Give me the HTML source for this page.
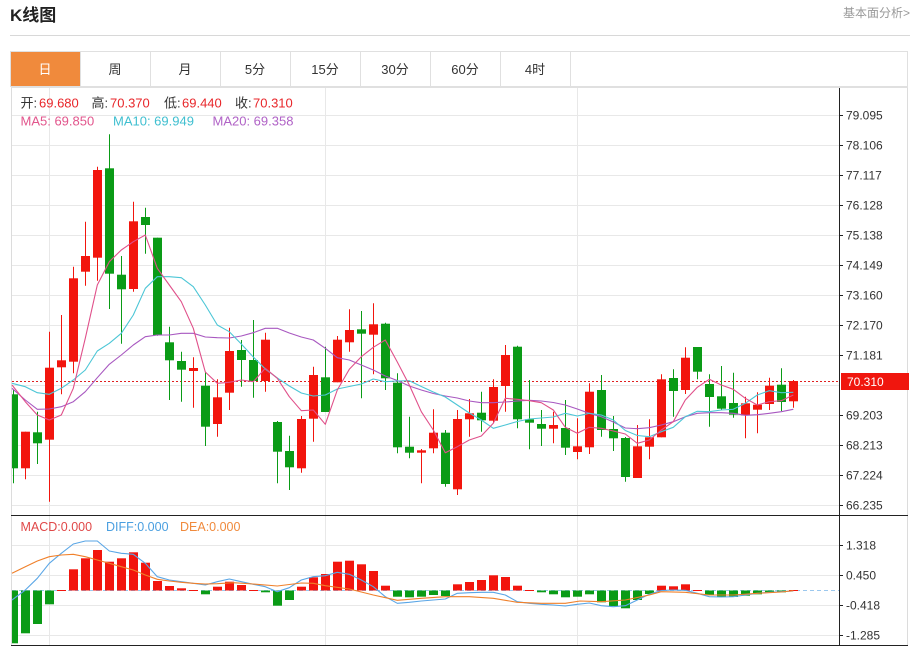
<!DOCTYPE html>
<html>
<head>
<meta charset="utf-8">
<style>
html,body{margin:0;padding:0;background:#fff;}
body{width:914px;height:646px;overflow:hidden;}
svg{display:block;font-family:"Liberation Sans","Noto Sans CJK SC",sans-serif;}
</style>
</head>
<body>
<svg width="914" height="646" viewBox="0 0 914 646" xmlns="http://www.w3.org/2000/svg">
<rect x="0" y="0" width="914" height="646" fill="#fff"/>
<!-- header -->
<text x="10" y="21" font-size="17" font-weight="bold" fill="#222">K线图</text>
<text x="910" y="17" font-size="12" fill="#999" text-anchor="end">基本面分析&gt;</text>
<line x1="10" y1="35.5" x2="910" y2="35.5" stroke="#d8d8d8" stroke-width="1"/>

<!-- tab bar -->
<rect x="10.5" y="51.5" width="897" height="35" fill="#fff" stroke="#e0e0e0"/>
<rect x="11" y="52" width="69" height="34" fill="#f08a3c"/>
<g stroke="#e0e0e0">
<line x1="80.5" y1="52" x2="80.5" y2="86"/>
<line x1="150.5" y1="52" x2="150.5" y2="86"/>
<line x1="220.5" y1="52" x2="220.5" y2="86"/>
<line x1="290.5" y1="52" x2="290.5" y2="86"/>
<line x1="360.5" y1="52" x2="360.5" y2="86"/>
<line x1="430.5" y1="52" x2="430.5" y2="86"/>
<line x1="500.5" y1="52" x2="500.5" y2="86"/>
<line x1="570.5" y1="52" x2="570.5" y2="86"/>
</g>
<g font-size="13" text-anchor="middle" fill="#333">
<text x="45" y="74" fill="#fff">日</text>
<text x="115" y="74">周</text>
<text x="185" y="74">月</text>
<text x="255" y="74">5分</text>
<text x="325" y="74">15分</text>
<text x="395" y="74">30分</text>
<text x="465" y="74">60分</text>
<text x="535" y="74">4时</text>
</g>

<!-- chart box -->
<line x1="11.5" y1="87" x2="11.5" y2="645" stroke="#dcdcdc"/>
<line x1="907.5" y1="87" x2="907.5" y2="645" stroke="#dcdcdc"/>
<line x1="11" y1="87.5" x2="908" y2="87.5" stroke="#e0e0e0"/>

<!-- grid -->
<g stroke="#e8e8e8" stroke-width="1">
<line x1="12" y1="115.5" x2="839" y2="115.5"/>
<line x1="12" y1="145.5" x2="839" y2="145.5"/>
<line x1="12" y1="175.5" x2="839" y2="175.5"/>
<line x1="12" y1="205.5" x2="839" y2="205.5"/>
<line x1="12" y1="235.5" x2="839" y2="235.5"/>
<line x1="12" y1="265.5" x2="839" y2="265.5"/>
<line x1="12" y1="295.5" x2="839" y2="295.5"/>
<line x1="12" y1="325.5" x2="839" y2="325.5"/>
<line x1="12" y1="355.5" x2="839" y2="355.5"/>
<line x1="12" y1="385.5" x2="839" y2="385.5"/>
<line x1="12" y1="415.5" x2="839" y2="415.5"/>
<line x1="12" y1="445.5" x2="839" y2="445.5"/>
<line x1="12" y1="475.5" x2="839" y2="475.5"/>
<line x1="12" y1="505.5" x2="839" y2="505.5"/>
<line x1="12" y1="545.5" x2="839" y2="545.5"/>
<line x1="12" y1="575.5" x2="839" y2="575.5"/>
<line x1="12" y1="605.5" x2="839" y2="605.5"/>
<line x1="12" y1="635.5" x2="839" y2="635.5"/>
<line x1="49.5" y1="88" x2="49.5" y2="645"/>
<line x1="325.5" y1="88" x2="325.5" y2="645"/>
<line x1="577.5" y1="88" x2="577.5" y2="645"/>
</g>

<!-- axes -->
<line x1="839.5" y1="88" x2="839.5" y2="646" stroke="#222"/>
<line x1="11" y1="515.5" x2="908" y2="515.5" stroke="#222"/>
<line x1="11" y1="645.5" x2="908" y2="645.5" stroke="#222"/>
<g stroke="#222">
<line x1="839" y1="115.5" x2="843" y2="115.5"/>
<line x1="839" y1="145.5" x2="843" y2="145.5"/>
<line x1="839" y1="175.5" x2="843" y2="175.5"/>
<line x1="839" y1="205.5" x2="843" y2="205.5"/>
<line x1="839" y1="235.5" x2="843" y2="235.5"/>
<line x1="839" y1="265.5" x2="843" y2="265.5"/>
<line x1="839" y1="295.5" x2="843" y2="295.5"/>
<line x1="839" y1="325.5" x2="843" y2="325.5"/>
<line x1="839" y1="355.5" x2="843" y2="355.5"/>
<line x1="839" y1="415.5" x2="843" y2="415.5"/>
<line x1="839" y1="445.5" x2="843" y2="445.5"/>
<line x1="839" y1="475.5" x2="843" y2="475.5"/>
<line x1="839" y1="505.5" x2="843" y2="505.5"/>
<line x1="839" y1="545.5" x2="843" y2="545.5"/>
<line x1="839" y1="575.5" x2="843" y2="575.5"/>
<line x1="839" y1="605.5" x2="843" y2="605.5"/>
<line x1="839" y1="635.5" x2="843" y2="635.5"/>
</g>
<g font-size="12" fill="#333">
<text x="846" y="119.5">79.095</text>
<text x="846" y="149.5">78.106</text>
<text x="846" y="179.5">77.117</text>
<text x="846" y="209.5">76.128</text>
<text x="846" y="239.5">75.138</text>
<text x="846" y="269.5">74.149</text>
<text x="846" y="299.5">73.160</text>
<text x="846" y="329.5">72.170</text>
<text x="846" y="359.5">71.181</text>
<text x="846" y="419.5">69.203</text>
<text x="846" y="449.5">68.213</text>
<text x="846" y="479.5">67.224</text>
<text x="846" y="509.5">66.235</text>
<text x="846" y="549.5">1.318</text>
<text x="846" y="579.5">0.450</text>
<text x="846" y="609.5">-0.418</text>
<text x="846" y="639.5">-1.285</text>
</g>

<!-- legends -->
<g font-size="13">
<text x="20.5" y="107.5" fill="#333">开:</text>
<text x="39" y="107.5" fill="#e8262a">69.680</text>
<text x="91.5" y="107.5" fill="#333">高:</text>
<text x="110" y="107.5" fill="#e8262a">70.370</text>
<text x="164" y="107.5" fill="#333">低:</text>
<text x="182" y="107.5" fill="#e8262a">69.440</text>
<text x="235" y="107.5" fill="#333">收:</text>
<text x="253" y="107.5" fill="#e8262a">70.310</text>
<text x="20.5" y="125.5" fill="#e2558c">MA5: 69.850</text>
<text x="113" y="125.5" fill="#3fbfd0">MA10: 69.949</text>
<text x="212.5" y="125.5" fill="#b062c6">MA20: 69.358</text>
</g>
<g font-size="12.5">
<text x="20.5" y="531" fill="#e04848">MACD:0.000</text>
<text x="106" y="531" fill="#4a9fe0">DIFF:0.000</text>
<text x="180" y="531" fill="#f08a3c">DEA:0.000</text>
</g>

<!-- current price line -->
<line x1="12" y1="381.5" x2="839" y2="381.5" stroke="#e02020" stroke-width="1" stroke-dasharray="2,2"/>
<rect x="841" y="373" width="68" height="17" fill="#f0160e"/>
<text x="847" y="386" font-size="12" fill="#fff">70.310</text>

<!-- red candles -->
<g fill="#f2150d" stroke="#f2150d" stroke-width="1">
<line x1="25.5" y1="431.7" x2="25.5" y2="479.3"/><rect stroke="none" x="21" y="431.7" width="9" height="36.6"/>
<line x1="49.5" y1="331.7" x2="49.5" y2="501.7"/><rect stroke="none" x="45" y="367.7" width="9" height="72"/>
<line x1="61.5" y1="315" x2="61.5" y2="394.3"/><rect stroke="none" x="57" y="360.3" width="9" height="7"/>
<line x1="73.5" y1="266.7" x2="73.5" y2="373.3"/><rect stroke="none" x="69" y="278.3" width="9" height="83.4"/>
<line x1="85.5" y1="221.7" x2="85.5" y2="285.7"/><rect stroke="none" x="81" y="256" width="9" height="15.7"/>
<line x1="97.5" y1="166.7" x2="97.5" y2="280.7"/><rect stroke="none" x="93" y="170" width="9" height="87.7"/>
<line x1="133.5" y1="201.7" x2="133.5" y2="291.7"/><rect stroke="none" x="129" y="221.3" width="9" height="67.7"/>
<line x1="193.5" y1="357.3" x2="193.5" y2="407.7"/><rect stroke="none" x="189" y="368" width="9" height="3"/>
<line x1="217.5" y1="379.3" x2="217.5" y2="436.7"/><rect stroke="none" x="213" y="397.3" width="9" height="26.7"/>
<line x1="229.5" y1="327.7" x2="229.5" y2="410"/><rect stroke="none" x="225" y="351" width="9" height="41.7"/>
<line x1="265.5" y1="332.7" x2="265.5" y2="391.7"/><rect stroke="none" x="261" y="339.7" width="9" height="41.3"/>
<line x1="301.5" y1="416" x2="301.5" y2="472.7"/><rect stroke="none" x="297" y="419" width="9" height="49.3"/>
<line x1="313.5" y1="366.7" x2="313.5" y2="441.7"/><rect stroke="none" x="309" y="375" width="9" height="43.7"/>
<line x1="337.5" y1="336" x2="337.5" y2="382.3"/><rect stroke="none" x="333" y="339.7" width="9" height="42.6"/>
<line x1="349.5" y1="309.3" x2="349.5" y2="351.7"/><rect stroke="none" x="345" y="330" width="9" height="12.3"/>
<line x1="373.5" y1="303.3" x2="373.5" y2="374.3"/><rect stroke="none" x="369" y="324.3" width="9" height="10.4"/>
<line x1="421.5" y1="449" x2="421.5" y2="483.3"/><rect stroke="none" x="417" y="450.3" width="9" height="2.4"/>
<line x1="433.5" y1="409.3" x2="433.5" y2="453.3"/><rect stroke="none" x="429" y="432.7" width="9" height="15.6"/>
<line x1="457.5" y1="410" x2="457.5" y2="495"/><rect stroke="none" x="453" y="419" width="9" height="70.3"/>
<line x1="469.5" y1="399" x2="469.5" y2="436.7"/><rect stroke="none" x="465" y="413.3" width="9" height="6"/>
<line x1="493.5" y1="379.3" x2="493.5" y2="423.3"/><rect stroke="none" x="489" y="387" width="9" height="33.7"/>
<line x1="505.5" y1="345" x2="505.5" y2="411.7"/><rect stroke="none" x="501" y="355" width="9" height="31"/>
<line x1="553.5" y1="411.7" x2="553.5" y2="443.3"/><rect stroke="none" x="549" y="425" width="9" height="3.7"/>
<line x1="577.5" y1="418.3" x2="577.5" y2="459.3"/><rect stroke="none" x="573" y="446.3" width="9" height="5.7"/>
<line x1="589.5" y1="383.3" x2="589.5" y2="454"/><rect stroke="none" x="585" y="391.7" width="9" height="55.6"/>
<line x1="637.5" y1="425" x2="637.5" y2="478"/><rect stroke="none" x="633" y="446.3" width="9" height="31.7"/>
<line x1="649.5" y1="419.3" x2="649.5" y2="459.3"/><rect stroke="none" x="645" y="437.3" width="9" height="9.4"/>
<line x1="661.5" y1="374.3" x2="661.5" y2="437.3"/><rect stroke="none" x="657" y="379.3" width="9" height="58"/>
<line x1="685.5" y1="347.3" x2="685.5" y2="394"/><rect stroke="none" x="681" y="357.7" width="9" height="32.3"/>
<line x1="745.5" y1="396.7" x2="745.5" y2="438.3"/><rect stroke="none" x="741" y="403.3" width="9" height="12"/>
<line x1="757.5" y1="392.3" x2="757.5" y2="433.3"/><rect stroke="none" x="753" y="404.7" width="9" height="5"/>
<line x1="769.5" y1="377.7" x2="769.5" y2="410"/><rect stroke="none" x="765" y="385.7" width="9" height="18.3"/>
<line x1="793.5" y1="380" x2="793.5" y2="407.7"/><rect stroke="none" x="789" y="381" width="9" height="20.3"/>
</g>

<!-- green candles -->
<g fill="#0a9b16" stroke="#0a9b16" stroke-width="1">
<line x1="13.5" y1="390" x2="13.5" y2="483.3"/><rect stroke="none" x="12" y="394.3" width="6" height="74"/>
<line x1="37.5" y1="411.7" x2="37.5" y2="464"/><rect stroke="none" x="33" y="432.3" width="9" height="11"/>
<line x1="109.5" y1="134.3" x2="109.5" y2="309"/><rect stroke="none" x="105" y="168.3" width="9" height="105.4"/>
<line x1="121.5" y1="256" x2="121.5" y2="343.7"/><rect stroke="none" x="117" y="274.7" width="9" height="14.6"/>
<line x1="145.5" y1="207.7" x2="145.5" y2="253.7"/><rect stroke="none" x="141" y="217" width="9" height="8"/>
<line x1="157.5" y1="237.7" x2="157.5" y2="335.7"/><rect stroke="none" x="153" y="237.7" width="9" height="97.3"/>
<line x1="169.5" y1="326.7" x2="169.5" y2="400"/><rect stroke="none" x="165" y="342.3" width="9" height="18"/>
<line x1="181.5" y1="351.7" x2="181.5" y2="401.7"/><rect stroke="none" x="177" y="361" width="9" height="8.7"/>
<line x1="205.5" y1="371.7" x2="205.5" y2="446"/><rect stroke="none" x="201" y="385.7" width="9" height="41"/>
<line x1="241.5" y1="340" x2="241.5" y2="386.7"/><rect stroke="none" x="237" y="350" width="9" height="10"/>
<line x1="253.5" y1="320" x2="253.5" y2="397.7"/><rect stroke="none" x="249" y="360" width="9" height="21"/>
<line x1="277.5" y1="421" x2="277.5" y2="483.3"/><rect stroke="none" x="273" y="422" width="9" height="29.7"/>
<line x1="289.5" y1="435.7" x2="289.5" y2="490"/><rect stroke="none" x="285" y="451" width="9" height="16.3"/>
<line x1="325.5" y1="346.7" x2="325.5" y2="412"/><rect stroke="none" x="321" y="377.3" width="9" height="34.7"/>
<line x1="361.5" y1="311" x2="361.5" y2="398.3"/><rect stroke="none" x="357" y="329.3" width="9" height="4.4"/>
<line x1="385.5" y1="322.7" x2="385.5" y2="390"/><rect stroke="none" x="381" y="323.7" width="9" height="54.6"/>
<line x1="397.5" y1="373.3" x2="397.5" y2="453.3"/><rect stroke="none" x="393" y="382.7" width="9" height="64.6"/>
<line x1="409.5" y1="416.7" x2="409.5" y2="458.3"/><rect stroke="none" x="405" y="446.7" width="9" height="6"/>
<line x1="445.5" y1="430" x2="445.5" y2="486.7"/><rect stroke="none" x="441" y="432.7" width="9" height="51.3"/>
<line x1="481.5" y1="391.7" x2="481.5" y2="431.7"/><rect stroke="none" x="477" y="412.7" width="9" height="7.6"/>
<line x1="517.5" y1="345.7" x2="517.5" y2="428.3"/><rect stroke="none" x="513" y="346.7" width="9" height="72.6"/>
<line x1="529.5" y1="380" x2="529.5" y2="449.3"/><rect stroke="none" x="525" y="419.3" width="9" height="3.4"/>
<line x1="541.5" y1="410" x2="541.5" y2="446"/><rect stroke="none" x="537" y="424" width="9" height="4.7"/>
<line x1="565.5" y1="400" x2="565.5" y2="455"/><rect stroke="none" x="561" y="428" width="9" height="19.7"/>
<line x1="601.5" y1="375" x2="601.5" y2="436.7"/><rect stroke="none" x="597" y="390" width="9" height="40"/>
<line x1="613.5" y1="416" x2="613.5" y2="451"/><rect stroke="none" x="609" y="429" width="9" height="9.3"/>
<line x1="625.5" y1="437" x2="625.5" y2="481.7"/><rect stroke="none" x="621" y="438" width="9" height="39"/>
<line x1="673.5" y1="369.3" x2="673.5" y2="416.7"/><rect stroke="none" x="669" y="378" width="9" height="13"/>
<line x1="697.5" y1="347" x2="697.5" y2="379.3"/><rect stroke="none" x="693" y="347" width="9" height="24.7"/>
<line x1="709.5" y1="374.3" x2="709.5" y2="426.7"/><rect stroke="none" x="705" y="384" width="9" height="13"/>
<line x1="721.5" y1="366" x2="721.5" y2="410"/><rect stroke="none" x="717" y="396.3" width="9" height="12.4"/>
<line x1="733.5" y1="372.7" x2="733.5" y2="417.7"/><rect stroke="none" x="729" y="403" width="9" height="11.7"/>
<line x1="781.5" y1="368.3" x2="781.5" y2="411"/><rect stroke="none" x="777" y="384.7" width="9" height="17.3"/>
</g>

<!-- MA lines -->
<g fill="none" stroke-width="1.1" stroke-linejoin="round">
<polyline stroke="#a858c0" points="12,388.3 25.3,400 37.3,409.3 49.3,409 61.3,406.7 73.3,401.7 85.3,391.7 97.3,377.7 109.3,364.3 121.3,355 133.3,345 145.3,336.7 157.3,335 169.3,335 181.3,333.3 193.3,333.3 205.3,337 217.3,337.7 229.3,338 241.3,336 253.3,332.7 265.3,328.3 277.3,328.3 289.3,333 301.3,337 313.3,340 325.3,348.3 337.3,357.7 349.3,360 361.3,365 373.3,370 385.3,376 397.3,380.5 409.3,386 421.3,390 433.3,393.5 445.3,396 457.3,398 469.3,401 481.3,402.7 493.3,402.7 505.3,402 517.3,401 529.3,400.3 541.3,401 553.3,402.5 565.3,405 577.3,409 589.3,413.3 601.3,416.7 613.3,422 625.3,428 637.3,428.7 649.3,427.7 661.3,425 673.3,421.7 685.3,416.7 697.3,413.3 709.3,412.7 721.3,412.7 733.3,413.3 745.3,415.3 757.3,414.7 769.3,413.3 781.3,411.7 793.3,409.3"/>
<polyline stroke="#4cc6d6" points="12,383.3 25.3,386.7 37.3,392.7 49.3,394.3 61.3,388.3 73.3,380 85.3,370 97.3,351 109.3,343.3 121.3,333.3 133.3,315 145.3,288.3 157.3,276.7 169.3,276.7 181.3,277.7 193.3,286.7 205.3,305 217.3,325 229.3,331.7 241.3,344 253.3,357 265.3,369 277.3,378 289.3,386 301.3,393 313.3,396 325.3,395 337.3,389 349.3,386.5 361.3,384 373.3,379 385.3,381.7 397.3,381 409.3,380.7 421.3,386.5 433.3,392 445.3,397 457.3,405 469.3,413 481.3,420 493.3,428.3 505.3,425 517.3,421.5 529.3,419 541.3,418 553.3,417 565.3,413.3 577.3,416 589.3,413.3 601.3,415 613.3,420 625.3,430.5 637.3,435.5 649.3,436.7 661.3,431.7 673.3,427.3 685.3,416.7 697.3,411.3 709.3,411.7 721.3,410 733.3,409.3 745.3,403.3 757.3,395 769.3,390.7 781.3,392.7 793.3,392.3"/>
<polyline stroke="#e0508a" points="12,385 25.3,401.7 37.3,415 49.3,420 61.3,415 73.3,388.3 85.3,338.3 97.3,285 109.3,261.7 121.3,250 133.3,241.7 145.3,235 157.3,268.3 169.3,285 181.3,301.7 193.3,328.3 205.3,372 217.3,383.3 229.3,382.3 241.3,380 253.3,381.7 265.3,368.3 277.3,378.3 289.3,396.7 301.3,410.7 313.3,410 325.3,424.3 337.3,390 349.3,369.3 361.3,356.7 373.3,347.3 385.3,340 397.3,362 409.3,385 421.3,411.7 433.3,430 445.3,452.7 457.3,446.7 469.3,440 481.3,436 493.3,423.3 505.3,398.3 517.3,399.3 529.3,400.7 541.3,402.7 553.3,410 565.3,427.3 577.3,433.3 589.3,427.3 601.3,428.3 613.3,431 625.3,434 637.3,443.3 649.3,440 661.3,430 673.3,421.7 685.3,400 697.3,387.3 709.3,379.3 721.3,385 733.3,389.3 745.3,398.3 757.3,405 769.3,401.7 781.3,400.7 793.3,395"/>
</g>

<!-- MACD zero line -->
<line x1="12" y1="590.5" x2="839" y2="590.5" stroke="#9cc8ee" stroke-width="1" stroke-dasharray="4,3"/>

<!-- MACD red bars -->
<g fill="#f2150d">
<rect x="57" y="590" width="9" height="1"/>
<rect x="69" y="569.3" width="9" height="21.2"/>
<rect x="81" y="558.3" width="9" height="32.2"/>
<rect x="93" y="550" width="9" height="40.5"/>
<rect x="105" y="561.7" width="9" height="28.8"/>
<rect x="117" y="558.3" width="9" height="32.2"/>
<rect x="129" y="552.3" width="9" height="38.2"/>
<rect x="141" y="562.7" width="9" height="27.8"/>
<rect x="153" y="581" width="9" height="9.5"/>
<rect x="165" y="586" width="9" height="4.5"/>
<rect x="177" y="588.3" width="9" height="2.2"/>
<rect x="189" y="590" width="9" height="1"/>
<rect x="213" y="586.7" width="9" height="3.8"/>
<rect x="225" y="581.7" width="9" height="8.8"/>
<rect x="237" y="585" width="9" height="5.5"/>
<rect x="249" y="590" width="9" height="1"/>
<rect x="297" y="586.7" width="9" height="3.8"/>
<rect x="309" y="577.3" width="9" height="13.2"/>
<rect x="321" y="574" width="9" height="16.5"/>
<rect x="333" y="561.7" width="9" height="28.8"/>
<rect x="345" y="560.7" width="9" height="29.8"/>
<rect x="357" y="564.3" width="9" height="26.2"/>
<rect x="369" y="571" width="9" height="19.5"/>
<rect x="381" y="585.7" width="9" height="4.8"/>
<rect x="453" y="584.3" width="9" height="6.2"/>
<rect x="465" y="582" width="9" height="8.5"/>
<rect x="477" y="580" width="9" height="10.5"/>
<rect x="489" y="575.3" width="9" height="15.2"/>
<rect x="501" y="577" width="9" height="13.5"/>
<rect x="513" y="585.7" width="9" height="4.8"/>
<rect x="525" y="590" width="9" height="1"/>
<rect x="657" y="585.7" width="9" height="4.8"/>
<rect x="669" y="586.3" width="9" height="4.2"/>
<rect x="681" y="584.3" width="9" height="6.2"/>
<rect x="693" y="590" width="9" height="1"/>
<rect x="789" y="590" width="9" height="1"/>
</g>
<!-- MACD green bars -->
<g fill="#0a9b16">
<rect x="12" y="590.5" width="6" height="52.8"/>
<rect x="21" y="590.5" width="9" height="42.8"/>
<rect x="33" y="590.5" width="9" height="33.5"/>
<rect x="45" y="590.5" width="9" height="13.8"/>
<rect x="201" y="590.5" width="9" height="3.8"/>
<rect x="261" y="590.5" width="9" height="1.8"/>
<rect x="273" y="590.5" width="9" height="15.2"/>
<rect x="285" y="590.5" width="9" height="9.5"/>
<rect x="393" y="590.5" width="9" height="6.2"/>
<rect x="405" y="590.5" width="9" height="6.8"/>
<rect x="417" y="590.5" width="9" height="6.2"/>
<rect x="429" y="590.5" width="9" height="4.5"/>
<rect x="441" y="590.5" width="9" height="5.5"/>
<rect x="537" y="590.5" width="9" height="1.8"/>
<rect x="549" y="590.5" width="9" height="3.8"/>
<rect x="561" y="590.5" width="9" height="6.8"/>
<rect x="573" y="590.5" width="9" height="6.2"/>
<rect x="585" y="590.5" width="9" height="3.8"/>
<rect x="597" y="590.5" width="9" height="11.8"/>
<rect x="609" y="590.5" width="9" height="15.5"/>
<rect x="621" y="590.5" width="9" height="17.8"/>
<rect x="633" y="590.5" width="9" height="9.5"/>
<rect x="645" y="590.5" width="9" height="3.5"/>
<rect x="705" y="590.5" width="9" height="4.5"/>
<rect x="717" y="590.5" width="9" height="6.5"/>
<rect x="729" y="590.5" width="9" height="6.5"/>
<rect x="741" y="590.5" width="9" height="5.2"/>
<rect x="753" y="590.5" width="9" height="3.8"/>
<rect x="765" y="590.5" width="9" height="2.2"/>
<rect x="777" y="590.5" width="9" height="1.8"/>
</g>

<!-- DIFF / DEA -->
<g fill="none" stroke-width="1.1" stroke-linejoin="round">
<polyline stroke="#5aa6e6" points="12,600 25.3,590 37.3,578.3 49.3,563.3 61.3,553.3 73.3,544 85.3,541 97.3,541 109.3,551 121.3,553.3 133.3,554.3 145.3,563.3 157.3,576.7 169.3,580 181.3,581.7 193.3,583.3 205.3,585 217.3,581.7 229.3,579 241.3,581.7 253.3,584.3 265.3,586.7 277.3,591.7 289.3,587.7 301.3,580 313.3,576.7 325.3,575.7 337.3,572.3 349.3,574.3 361.3,580 373.3,586.7 385.3,596.7 397.3,603.3 409.3,602.3 421.3,601 433.3,600 445.3,599 457.3,593.3 469.3,592.7 481.3,592.3 493.3,592.3 505.3,595 517.3,601.7 529.3,603.3 541.3,604.3 553.3,605 565.3,606 577.3,604.3 589.3,603 601.3,605.7 613.3,606.7 625.3,605.7 637.3,600 649.3,594.3 661.3,590.5 673.3,590 685.3,590.3 697.3,593.3 709.3,596.7 721.3,597 733.3,596.7 745.3,595 757.3,593.3 769.3,592.3 781.3,591.7 793.3,591"/>
<polyline stroke="#f0802a" points="12,573.3 25.3,566.7 37.3,561 49.3,556.7 61.3,555 73.3,554.3 85.3,556.7 97.3,560 109.3,563.3 121.3,566.7 133.3,570 145.3,575 157.3,579.3 169.3,581 181.3,582.3 193.3,583.3 205.3,584 217.3,583.7 233.3,582.7 253.3,584 277.3,586 289.3,584.5 301.3,583 313.3,583.3 325.3,585.7 349.3,589 373.3,595 397.3,600.3 421.3,598.3 445.3,596.7 469.3,596.7 493.3,598.3 517.3,602.3 541.3,603.3 565.3,603.3 580,601 601.3,601.7 625.3,600 649.3,595 661.3,591.7 685.3,592.3 709.3,595 733.3,595 757.3,593.3 781.3,592 793.3,590.7"/>
</g>
</svg>
</body>
</html>
